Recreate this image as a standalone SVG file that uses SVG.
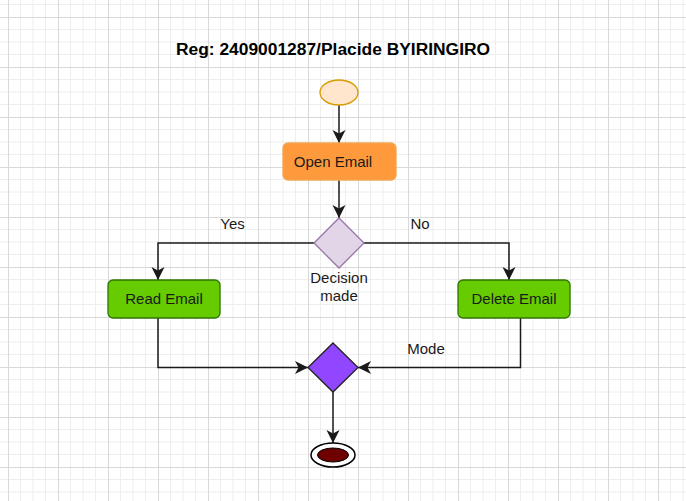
<svg xmlns="http://www.w3.org/2000/svg" width="686" height="501" viewBox="0 0 686 501">
<style>
.t{font-family:"Liberation Sans",Arial,sans-serif;font-size:15px;fill:#1a1a1a;text-anchor:middle}
.title{font-family:"Liberation Sans",Arial,sans-serif;font-size:17.4px;font-weight:bold;fill:#000;text-anchor:middle}
.c{fill:none;stroke:#1a1a1a;stroke-width:1.5}
.g{fill:#66CC00;stroke:#2D7600;stroke-width:1.3}
</style>
<defs>
<pattern id="grid" patternUnits="userSpaceOnUse" x="8" y="17" width="50" height="50">
<path d="M12.5 0V50M25 0V50M37.5 0V50M0 12.5H50M0 25H50M0 37.5H50" stroke="#eeeeee" stroke-width="1" fill="none"/>
<path d="M0.5 0V50M0 0.5H50" stroke="#d9d9d9" stroke-width="1" fill="none"/>
</pattern>
<marker id="arr" markerUnits="userSpaceOnUse" markerWidth="15" markerHeight="15" refX="13" refY="6.5" orient="auto" viewBox="0 0 15 13">
<path d="M0,0 L13,6.5 L0,13 L3.5,6.5 z" fill="#1a1a1a"/>
</marker>
</defs>
<rect width="686" height="501" fill="#ffffff"/>
<rect width="686" height="501" fill="url(#grid)"/>
<text class="title" x="333" y="55">Reg: 2409001287/Placide BYIRINGIRO</text>
<g id="connectors">
<path class="c" d="M339 105V143" marker-end="url(#arr)"/>
<path class="c" d="M339 180V218" marker-end="url(#arr)"/>
<path class="c" d="M314 243H158V280" marker-end="url(#arr)"/>
<path class="c" d="M364 243H509V280" marker-end="url(#arr)"/>
<path class="c" d="M158 318V367.5H308" marker-end="url(#arr)"/>
<path class="c" d="M520.5 318V367.5H358" marker-end="url(#arr)"/>
<path class="c" d="M333 392V443" marker-end="url(#arr)"/>
<text class="t" x="232.5" y="229">Yes</text>
<text class="t" x="420" y="229">No</text>
<text class="t" x="426" y="354">Mode</text>
</g>
<g id="start">
<ellipse cx="339" cy="92.5" rx="19" ry="12.5" fill="#FFE6CC" stroke="#D79B00" stroke-width="1.3"/>
</g>
<g id="open-email">
<rect x="283" y="143" width="113" height="37" rx="5" fill="#FF9A3C" stroke="#F2A650" stroke-width="1.3"/>
<text class="t" x="333" y="166.5">Open Email</text>
</g>
<g id="decision">
<path d="M339 218L364 243L339 268L314 243Z" fill="#E1D5E7" stroke="#9673A6" stroke-width="1.3"/>
<text class="t" x="339" y="283">Decision</text>
<text class="t" x="339" y="301">made</text>
</g>
<g id="read-email">
<rect class="g" x="108" y="280" width="112" height="38" rx="5"/>
<text class="t" x="164" y="303.5">Read Email</text>
</g>
<g id="delete-email">
<rect class="g" x="458" y="280" width="112" height="38" rx="5"/>
<text class="t" x="514" y="303.5">Delete Email</text>
</g>
<g id="merge">
<path d="M333 343L358 367.5L333 392L308 367.5Z" fill="#9147FF" stroke="#222" stroke-width="1.3"/>
</g>
<g id="end">
<ellipse cx="333" cy="455" rx="22" ry="12" fill="#ffffff" stroke="#000" stroke-width="1.5"/>
<ellipse cx="333" cy="455" rx="15.5" ry="7" fill="#6F0000" stroke="#000" stroke-width="1"/>
</g>
</svg>
